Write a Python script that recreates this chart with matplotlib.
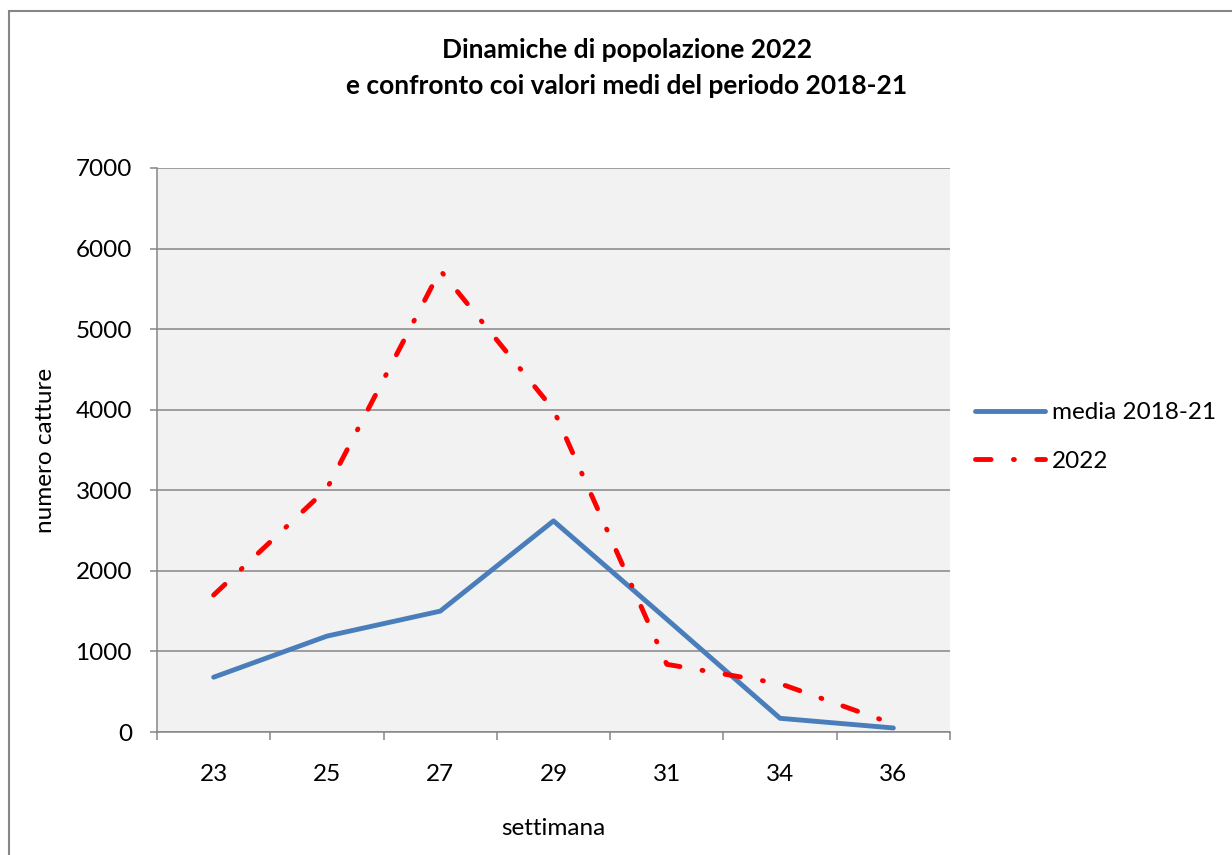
import matplotlib
matplotlib.use("Agg")
import matplotlib.pyplot as plt
from matplotlib.patches import Rectangle

# weekly captures
settimane = ["23", "25", "27", "29", "31", "34", "36"]
media_2018_21 = [680, 1190, 1500, 2620, 1400, 170, 50]
anno_2022 = [1700, 3020, 5730, 4000, 840, 600, 100]

plt.rcParams['font.family'] = ['Lato', 'DejaVu Sans']
grigio = "#868686"
fs = 17.5

fig = plt.figure(figsize=(12.32, 8.55), dpi=100)
fig.patches.append(Rectangle((9 / 1232, -0.02), 1.05, 1 - 11 / 855 + 0.02,
                             transform=fig.transFigure, fill=False,
                             edgecolor=grigio, linewidth=1.5))

ax = fig.add_axes([157 / 1232, 123 / 855, 793 / 1232, 564 / 855])
ax.set_facecolor("#F2F2F2")

x = list(range(len(settimane)))
ax.plot(x, media_2018_21, color="#4A7EBB", lw=3.5, solid_capstyle="round",
        label="media 2018-21", zorder=3)
ax.plot(x, anno_2022, color="#FF0000", lw=3.5, dash_capstyle="round",
        linestyle=(0, (3.2, 4.6, 0.2, 4.6)), label="2022", zorder=3)

ax.set_xlim(-0.5, len(settimane) - 0.5)
ax.set_ylim(0, 7000)
ax.set_yticks(range(0, 7001, 1000))
ax.set_xticks(x)
ax.set_xticklabels(settimane)
ax.set_xticks([i - 0.5 for i in range(len(settimane) + 1)], minor=True)

ax.yaxis.grid(True, color=grigio, lw=1.1)
ax.set_axisbelow(True)
for s in ["top", "right"]:
    ax.spines[s].set_visible(False)
for s in ["left", "bottom"]:
    ax.spines[s].set_color(grigio)
    ax.spines[s].set_linewidth(1.1)

ax.tick_params(axis="y", length=5, width=1.1, color=grigio, pad=13,
               labelsize=fs)
ax.tick_params(axis="x", which="major", length=0, pad=23, labelsize=fs)
ax.tick_params(axis="x", which="minor", length=6, width=1.1, color=grigio)

ax.set_xlabel("settimana", fontsize=fs, labelpad=24)
ax.set_ylabel("numero catture", fontsize=fs, labelpad=14)

fig.text(627 / 1232, 1 - 68 / 855,
         "Dinamiche di popolazione 2022\ne confronto coi valori medi del periodo 2018-21",
         ha="center", va="center", fontsize=19, fontweight="bold",
         linespacing=1.6)

ax.legend(loc="center left", bbox_to_anchor=(975 / 1232, 1 - 437 / 855),
          bbox_transform=fig.transFigure, frameon=False, fontsize=fs,
          handlelength=2.9, handletextpad=0.25, labelspacing=1.15,
          borderpad=0, borderaxespad=0)

fig.savefig("out.png", dpi=100)
